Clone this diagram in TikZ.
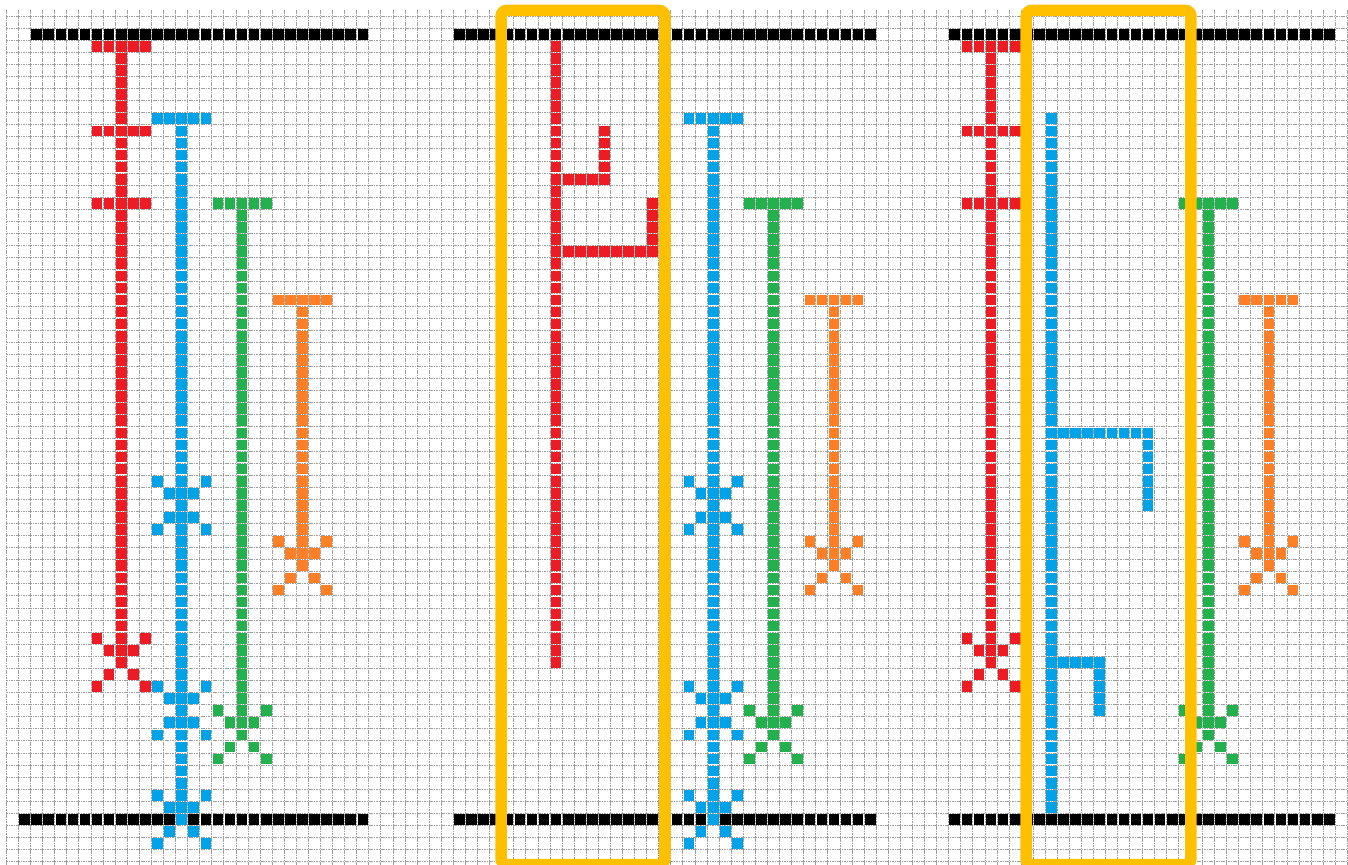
\documentclass[tikz,border=0pt]{standalone}
\usepackage{tikz}

\definecolor{redpx}{RGB}{237,28,36}
\definecolor{bluepx}{RGB}{0,162,232}
\definecolor{greenpx}{RGB}{34,177,76}
\definecolor{orangepx}{RGB}{255,127,39}
\definecolor{framey}{RGB}{255,192,0}

\begin{document}
\begin{tikzpicture}[
        x=6.04pt, y=-6.04pt,
        gridln/.style={draw=black!38, line width=0.5pt, dash pattern=on 0.8pt off 0.4pt},
        frame/.style={draw=framey, line width=5.75pt, rounded corners=3pt},
        tbar/.pic={\foreach \i in {-2,...,2} \fill (\i+.06,.06) rectangle +(.88,.88);},
        xmark/.pic={\foreach \i/\j in {-2/-2,2/-2,-1/-1,1/-1,-1/1,1/1,-2/2,2/2} \fill (\i+.06,\j+.06) rectangle +(.88,.88);},
        ]

        \useasboundingbox (-0.538,-1.333) rectangle (111.05,70.27);
        \fill[white] (-0.538,-1.333) rectangle (111.05,70.27);
        \clip (-0.538,-1.333) rectangle (111.05,70.27);

        % Grid
        \foreach \i in {0,...,111} \draw[gridln] (\i,-0.5) -- (\i,70.3);
        \foreach \j in {0,...,70} \draw[gridln] (0,\j) -- (111.1,\j);

        % Horizontal runs (black rails, branches)
        \foreach \a/\b/\r/\col in {2/29/1/black, 1/29/66/black, 37/71/1/black, 37/71/66/black, 78/109/1/black, 78/109/66/black,
                46/49/13/redpx, 46/53/19/redpx, 87/94/34/bluepx, 87/90/53/bluepx}
            \foreach \c in {\a,...,\b} \fill[\col] (\c+.06,\r+.06) rectangle +(.88,.88);

        % Vertical runs
        \foreach \c/\a/\b/\col in {9/2/53/redpx, 14/8/66/bluepx, 19/15/59/greenpx, 24/23/45/orangepx,
                45/2/53/redpx, 49/9/12/redpx, 53/15/18/redpx, 58/8/66/bluepx, 63/15/59/greenpx, 68/23/45/orangepx,
                81/2/53/redpx, 86/8/65/bluepx, 94/35/40/bluepx, 90/54/57/bluepx, 99/15/59/greenpx, 104/23/45/orangepx}
            \foreach \r in {\a,...,\b} \fill[\col] (\c+.06,\r+.06) rectangle +(.88,.88);

        % Bars
        \foreach \c/\r/\col in {9/2/redpx, 9/9/redpx, 9/15/redpx, 14/8/bluepx, 19/15/greenpx, 24/23/orangepx,
                58/8/bluepx, 63/15/greenpx, 68/23/orangepx,
                81/2/redpx, 81/9/redpx, 81/15/redpx, 99/15/greenpx, 104/23/orangepx}
            \pic[\col] at (\c,\r) {tbar};

        % Crosses
        \foreach \c/\r/\col in {9/53/redpx, 14/40/bluepx, 14/57/bluepx, 14/66/bluepx, 19/59/greenpx, 24/45/orangepx,
                58/40/bluepx, 58/57/bluepx, 58/66/bluepx, 63/59/greenpx, 68/45/orangepx,
                81/53/redpx, 99/59/greenpx, 104/45/orangepx}
            \pic[\col] at (\c,\r) {xmark};

        % Highlight frames
        \draw[frame] (40.94,-0.48) rectangle (54.5,70.23);
        \draw[frame] (84.4,-0.48) rectangle (98.05,70.23);

    \end{tikzpicture}
\end{document}
